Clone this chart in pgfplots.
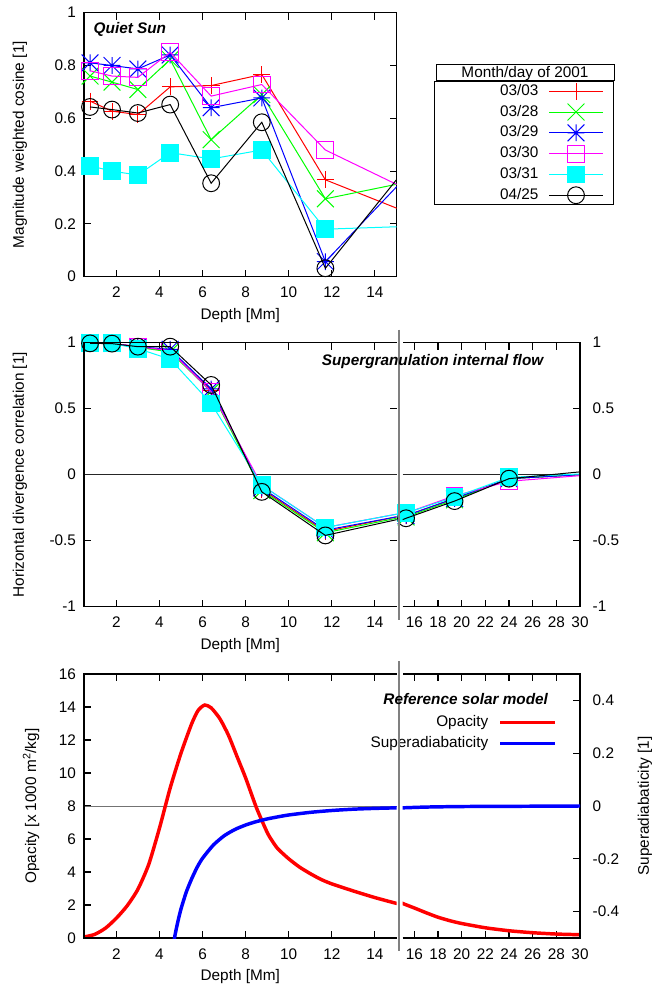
\documentclass[border=0pt]{standalone}
\usepackage{fontspec}
\setmainfont{Liberation Sans}
\usepackage{pgfplots}
\usepackage{pgfplotstable}
\pgfplotsset{compat=1.18}
\newcommand\fs{\fontsize{11.5pt}{13.8pt}\selectfont}
\definecolor{gpred}{RGB}{255,0,0}
\definecolor{gpgreen}{RGB}{0,255,0}
\definecolor{gpblue}{RGB}{0,0,255}
\definecolor{gpmag}{RGB}{255,0,255}
\definecolor{gpcyan}{RGB}{0,255,255}
\pgfdeclareplotmark{gpx}{%
 \pgfpathmoveto{\pgfqpoint{-\pgfplotmarksize}{-\pgfplotmarksize}}\pgfpathlineto{\pgfqpoint{\pgfplotmarksize}{\pgfplotmarksize}}%
 \pgfpathmoveto{\pgfqpoint{-\pgfplotmarksize}{\pgfplotmarksize}}\pgfpathlineto{\pgfqpoint{\pgfplotmarksize}{-\pgfplotmarksize}}%
 \pgfusepathqstroke}
\pgfdeclareplotmark{gpstar}{%
 \pgfpathmoveto{\pgfqpoint{-\pgfplotmarksize}{-\pgfplotmarksize}}\pgfpathlineto{\pgfqpoint{\pgfplotmarksize}{\pgfplotmarksize}}%
 \pgfpathmoveto{\pgfqpoint{-\pgfplotmarksize}{\pgfplotmarksize}}\pgfpathlineto{\pgfqpoint{\pgfplotmarksize}{-\pgfplotmarksize}}%
 \pgfpathmoveto{\pgfqpoint{-\pgfplotmarksize}{0pt}}\pgfpathlineto{\pgfqpoint{\pgfplotmarksize}{0pt}}%
 \pgfpathmoveto{\pgfqpoint{0pt}{-\pgfplotmarksize}}\pgfpathlineto{\pgfqpoint{0pt}{\pgfplotmarksize}}%
 \pgfusepathqstroke}

\pgfplotstableread{
d r g b m c k
0.78 0.665 0.76 0.81 0.78 0.42 0.643
1.8 0.627 0.737 0.80 0.76 0.40 0.633
3.0 0.614 0.709 0.787 0.755 0.385 0.62
4.5 0.719 0.823 0.84 0.85 0.47 0.652
6.4 0.724 0.519 0.64 0.684 0.446 0.354
8.75 0.766 0.69 0.677 0.728 0.48 0.585
11.7 0.367 0.295 0.057 0.48 0.18 0.032
15.3 0.25 0.355 0.366 0.338 0.19 0.398
}\topdata

\pgfplotstableread{
d r g b m c k
0.78 1.0 1.0 1.0 1.0 1.0 0.995
1.8 0.995 0.995 0.995 0.995 0.995 0.993
3.0 0.965 0.965 0.97 0.97 0.955 0.97
4.5 0.94 0.93 0.95 0.94 0.875 0.97
6.4 0.64 0.63 0.65 0.63 0.54 0.68
8.75 -0.11 -0.12 -0.10 -0.08 -0.08 -0.13
11.7 -0.43 -0.44 -0.42 -0.40 -0.40 -0.46
15.3 -0.31 -0.32 -0.31 -0.29 -0.29 -0.33
19.4 -0.18 -0.19 -0.18 -0.16 -0.17 -0.20
24.0 -0.03 -0.03 -0.03 -0.05 -0.02 -0.03
31.0 0.005 0.005 0.005 0.0 0.01 0.03
}\middata

\pgfplotstableread{
d k
0.5 0.06
1.0 0.22
1.5 0.6
2.0 1.2
2.5 1.95
3.0 2.95
3.5 4.45
4.0 6.65
4.5 9.1
5.0 11.2
5.5 13.0
5.8 13.8
6.1 14.12
6.4 13.95
6.8 13.3
7.2 12.3
7.6 11.0
8.0 9.7
8.5 7.9
9.0 6.4
9.25 5.85
9.5 5.4
10.0 4.8
10.5 4.3
11.0 3.9
11.5 3.55
12.0 3.28
13.0 2.85
14.0 2.45
15.0 2.1
16.0 1.82
17.0 1.53
18.0 1.26
19.0 1.05
20.0 0.88
22.0 0.62
24.0 0.44
26.0 0.32
28.0 0.24
30.0 0.2
}\opdata

\pgfplotstableread{
d s
4.55 -0.6
4.7 -0.5
4.85 -0.44
5.0 -0.39
5.25 -0.325
5.5 -0.275
5.75 -0.232
6.0 -0.198
6.5 -0.148
7.0 -0.113
7.5 -0.089
8.0 -0.072
8.5 -0.059
9.0 -0.049
9.5 -0.041
10.0 -0.034
11.0 -0.024
12.0 -0.017
13.0 -0.012
14.0 -0.009
15.0 -0.007
17.0 -0.004
20.0 -0.002
25.0 -0.001
30.0 0.0
}\sadata

\pgfplotsset{
 base/.style={scale only axis, clip mode=individual, major tick length=5.25pt,
   major tick style={black,line width=0.8pt},
   /pgf/number format/assume math mode=true,
   tick label style={font=\fs}, label style={font=\fs},
   xticklabel style={yshift=-4.4pt}},
 leftbox/.style={axis line style={draw=none},
   after end axis/.code={\draw[line width=1.1pt] (rel axis cs:1,0) -- (rel axis cs:0,0) -- (rel axis cs:0,1) -- (rel axis cs:1,1);}},
 rightbox/.style={axis line style={draw=none},
   after end axis/.code={\draw[line width=1.1pt] (rel axis cs:0,0) -- (rel axis cs:1,0) -- (rel axis cs:1,1) -- (rel axis cs:0,1);}},
 sR/.style={gpred, line width=0.75pt, mark=+, mark size=6.3pt},
 sG/.style={gpgreen, line width=0.75pt, mark=gpx, mark size=6.3pt},
 sB/.style={gpblue, line width=0.75pt, mark=gpstar, mark size=6.3pt},
 sM/.style={gpmag, line width=0.75pt, mark=square, mark size=6.3pt},
 sC/.style={gpcyan, line width=0.75pt, mark=square*, mark size=6.3pt, mark options={fill=gpcyan}},
 sK/.style={black, line width=0.75pt, mark=o, mark size=6.3pt},
 opst/.style={gpred, line width=2.6pt, smooth, tension=0.4},
 sast/.style={gpblue, line width=2.6pt, smooth, tension=0.4},
}
\newcommand\ser[5]{%
 \addplot[#1,mark=none,forget plot] table[x=d,y=#2]{#3};
 \addplot[#1,only marks,forget plot,restrict x to domain=#4:#5] table[x=d,y=#2]{#3};}

\begin{document}
\begin{tikzpicture}
\path[use as bounding box] (0,0) rectangle (499.5pt,-741pt);

% ---------------- top panel
\begin{axis}[base, at={(63pt,-9.525pt)}, anchor=north west,
  width=234.375pt, height=198pt,
  xmin=0.5, xmax=15, ymin=0, ymax=1,
  xtick={2,4,...,14}, ytick={0,0.2,0.4,0.6,0.8,1},
  axis line style={line width=1.1pt},
  yticklabel style={xshift=-2.5pt},
  xlabel={Depth [Mm]}, ylabel={Magnitude weighted cosine [1]},
  xlabel style={at={(axis description cs:0.5,-0.1477)}, anchor=center},
  ylabel style={at={(axis description cs:-0.2048,0.5)}, anchor=center},
  legend cell align=right, legend plot pos=right,
  legend image code/.code={\draw[mark repeat=2,mark phase=2] plot coordinates {(0pt,0pt) (20.25pt,0pt) (40.5pt,0pt)};},
  legend style={at={(axis description cs:1.696,0.7413)}, anchor=north east,
    draw=black, line width=0.75pt, fill=white, inner xsep=7.5pt, inner ysep=1pt,
    row sep=3pt, column sep=7.5pt, font=\fs,
    nodes={inner sep=0pt, text height=8.5pt, text depth=2.5pt}},
]
\addlegendimage{sR}\addlegendentry{\hspace*{41.7pt}03/03}
\addlegendimage{sG}\addlegendentry{\hspace*{41.7pt}03/28}
\addlegendimage{sB}\addlegendentry{\hspace*{41.7pt}03/29}
\addlegendimage{sM}\addlegendentry{\hspace*{41.7pt}03/30}
\addlegendimage{sC}\addlegendentry{\hspace*{41.7pt}03/31}
\addlegendimage{sK}\addlegendentry{\hspace*{41.7pt}04/25}
\ser{sR}{r}{\topdata}{0.5}{15}
\ser{sG}{g}{\topdata}{0.5}{15}
\ser{sB}{b}{\topdata}{0.5}{15}
\ser{sM}{m}{\topdata}{0.5}{15}
\ser{sC}{c}{\topdata}{0.5}{15}
\ser{sK}{k}{\topdata}{0.5}{15}
\end{axis}

% ---------------- middle panel, left part
\begin{axis}[base, leftbox, at={(63pt,-257.025pt)}, anchor=north west,
  width=234.375pt, height=198pt,
  xmin=0.5, xmax=15, ymin=-1, ymax=1,
  xtick={2,4,...,14}, ytick={-1,-0.5,0,0.5,1},
  yticklabel style={xshift=-2.5pt},
  xlabel={Depth [Mm]}, ylabel={Horizontal divergence correlation [1]},
  xlabel style={at={(axis description cs:0.5,-0.1477)}, anchor=center},
  ylabel style={at={(axis description cs:-0.2048,0.5)}, anchor=center},
]
\draw[black!85, line width=0.7pt] (rel axis cs:0,0.5) -- (rel axis cs:1,0.5);
\ser{sR}{r}{\middata}{0.5}{15}
\ser{sG}{g}{\middata}{0.5}{15}
\ser{sB}{b}{\middata}{0.5}{15}
\ser{sM}{m}{\middata}{0.5}{15}
\ser{sC}{c}{\middata}{0.5}{15}
\ser{sK}{k}{\middata}{0.5}{15}
\end{axis}
% middle panel, right part
\begin{axis}[base, rightbox, at={(301.875pt,-257.025pt)}, anchor=north west,
  width=133.125pt, height=198pt,
  xmin=15, xmax=30, ymin=-1, ymax=1,
  xtick={16,18,...,30}, ytick={-1,-0.5,0,0.5,1},
  ytick pos=right, yticklabel pos=right, yticklabel style={xshift=6pt},
]
\draw[black!85, line width=0.7pt] (rel axis cs:0,0.5) -- (rel axis cs:1,0.5);
\ser{sR}{r}{\middata}{15}{30}
\ser{sG}{g}{\middata}{15}{30}
\ser{sB}{b}{\middata}{15}{30}
\ser{sM}{m}{\middata}{15}{30}
\ser{sC}{c}{\middata}{15}{30}
\ser{sK}{k}{\middata}{15}{30}
\end{axis}

% ---------------- bottom panel, left part
\begin{axis}[base, leftbox, at={(63pt,-505.5pt)}, anchor=north west,
  width=234.375pt, height=198pt,
  xmin=0.5, xmax=15, ymin=0, ymax=16,
  xtick={2,4,...,14}, ytick={0,2,...,16}, ytick pos=left,
  yticklabel style={xshift=-2.5pt},
  xlabel={Depth [Mm]}, ylabel={Opacity [x 1000 m\textsuperscript{2}/kg]},
  xlabel style={at={(axis description cs:0.5,-0.1477)}, anchor=center},
  ylabel style={at={(axis description cs:-0.1696,0.5)}, anchor=center},
]
\draw[black!55, line width=0.7pt] (rel axis cs:0,0.5) -- (rel axis cs:1,0.5);
\addplot[opst] table[x=d,y=k]{\opdata};
\end{axis}
\begin{axis}[base, hide axis, at={(63pt,-505.5pt)}, anchor=north west,
  width=234.375pt, height=198pt,
  xmin=0.5, xmax=15, ymin=-0.5, ymax=0.5]
\addplot[sast] table[x=d,y=s]{\sadata};
\end{axis}
% bottom panel, right part
\begin{axis}[base, rightbox, at={(301.875pt,-505.5pt)}, anchor=north west,
  width=133.125pt, height=198pt,
  xmin=15, xmax=30, ymin=0, ymax=16,
  xtick={16,18,...,30}, ytick=\empty]
\draw[black!55, line width=0.7pt] (rel axis cs:0,0.5) -- (rel axis cs:1,0.5);
\addplot[opst] table[x=d,y=k]{\opdata};
\end{axis}
\begin{axis}[base, axis line style={draw=none}, at={(301.875pt,-505.5pt)}, anchor=north west,
  width=133.125pt, height=198pt,
  xmin=15, xmax=30, ymin=-0.5, ymax=0.5,
  xtick=\empty, ytick={-0.4,-0.2,0,0.2,0.4},
  ytick pos=right, yticklabel pos=right, yticklabel style={xshift=6pt},
  ylabel={Superadiabaticity [1]},
  ylabel style={at={(axis description cs:1.3662,0.5)}, anchor=center},
  legend cell align=right, legend plot pos=right,
  legend image code/.code={\draw (0pt,0pt) -- (41pt,0pt);},
  legend style={at={(axis description cs:0.8687,0.845)}, anchor=north east,
    draw=none, fill=none, inner sep=0pt, row sep=4.75pt, column sep=7.5pt, font=\fs,
    nodes={inner sep=0pt, text height=8.5pt, text depth=2.5pt}},
]
\addlegendimage{opst}\addlegendentry{Opacity}
\addplot[sast] table[x=d,y=s]{\sadata};
\addlegendentry{Superadiabaticity}
\end{axis}

% ---------------- annotations
\node[anchor=west, font=\fs\bfseries\itshape] at (66.75pt,-21.75pt) {Quiet Sun};
\draw[line width=0.75pt, fill=white] (327pt,-48.75pt) rectangle (460.5pt,-60.75pt);
\node[font=\fs] at (393.75pt,-54.9pt) {Month/day of 2001};
\draw[gray, line width=1.7pt] (299.5pt,-247.3pt) -- (299.5pt,-464.8pt);
\draw[gray, line width=1.7pt] (299.5pt,-495.75pt) -- (299.5pt,-713.25pt);
\node[anchor=east, font=\fs\bfseries\itshape] at (411pt,-271.3pt) {Supergranulation internal flow};
\node[anchor=east, font=\fs\bfseries\itshape] at (414.5pt,-524.5pt) {Reference solar model};
\end{tikzpicture}
\end{document}
